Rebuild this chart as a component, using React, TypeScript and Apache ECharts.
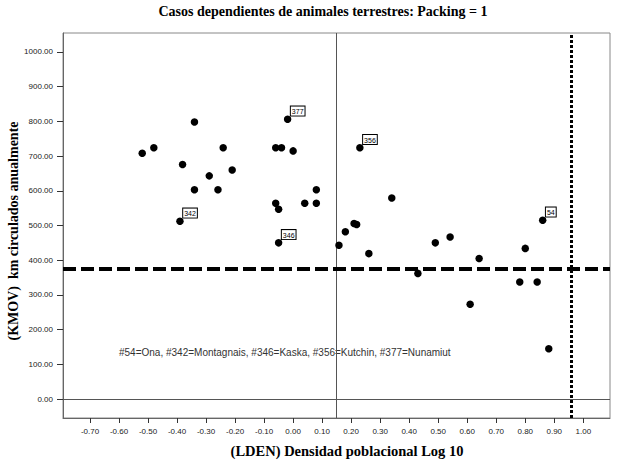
import React, { useEffect, useRef } from "react";
import * as echarts from "echarts";

const lden: number[] = [
  -0.52, -0.48, -0.34, -0.381, -0.289, -0.241, -0.21, -0.34, -0.259, -0.39,
  -0.06, -0.04, -0.019, 0.0, -0.06, -0.05, 0.04, 0.08, 0.08, -0.05,
  0.158, 0.18, 0.21, 0.219, 0.23, 0.261, 0.34, 0.43, 0.49, 0.541,
  0.61, 0.641, 0.781, 0.8, 0.841, 0.86, 0.881,
];
const kmov: number[] = [
  708, 724, 798, 676, 643, 724, 660, 603, 603, 512,
  724, 724, 806, 715, 564, 547, 564, 603, 564, 450,
  443, 482, 506, 503, 724, 419, 579, 362, 450, 467,
  273, 405, 337, 434, 337, 515, 145,
];
const caseIds: string[] = [
  "", "", "", "", "", "", "", "", "", "342",
  "", "", "377", "", "", "", "", "", "", "346",
  "", "", "", "", "356", "", "", "", "", "",
  "", "", "", "", "", "54", "",
];
const xTicks: number[] = [
  -0.7, -0.6, -0.5, -0.4, -0.3, -0.2, -0.1, 0.0, 0.1, 0.2, 0.3, 0.4, 0.5,
  0.6, 0.7, 0.8, 0.9, 1.0,
];
const yTicks: number[] = [0, 100, 200, 300, 400, 500, 600, 700, 800, 900, 1000];
const meanKmov = 374;
const meanLden = 0.15;
const packingThreshold = 0.962;
const legendNote =
  "#54=Ona, #342=Montagnais, #346=Kaska, #356=Kutchin, #377=Nunamiut";

export default function App() {
  const ref = useRef<HTMLDivElement>(null);
  useEffect(() => {
    if (!ref.current) return;
    const chart = echarts.init(ref.current, undefined, { renderer: "svg" });
    const data = lden.map((x, i) => {
      const id = caseIds[i];
      const item: any = { value: [x, kmov[i]] };
      if (id) {
        item.label = {
          show: true,
          formatter: id,
          position: [7, -9],
          fontSize: 7,
          fontFamily: "Liberation Sans",
          color: "#000",
          backgroundColor: "#fff",
          borderColor: "#000",
          borderWidth: 1,
          padding: [1, 1, 0, 1],
          lineHeight: 8,
          opacity: 1,
        };
      }
      return item;
    });
    const sans = "Liberation Sans";
    chart.setOption({
      animation: false,
      backgroundColor: "#fff",
      grid: {
        left: 63,
        top: 33,
        right: 8,
        bottom: 42,
        show: true,
        borderColor: "#888",
        borderWidth: 1,
        backgroundColor: "#fff",
      },
      xAxis: {
        type: "value",
        min: -0.793,
        max: 1.092,
        splitLine: { show: false },
        axisLine: { onZero: false, lineStyle: { color: "#666", width: 1 } },
        axisTick: {
          customValues: xTicks,
          length: 5,
          lineStyle: { color: "#333" },
        },
        axisLabel: {
          customValues: xTicks,
          formatter: (v: number) => v.toFixed(2),
          fontSize: 8,
          fontFamily: sans,
          color: "#222",
          margin: 9,
        },
      },
      yAxis: {
        type: "value",
        min: -54.7,
        max: 1054.7,
        splitLine: { show: false },
        axisLine: { onZero: false, lineStyle: { color: "#666", width: 1 } },
        axisTick: {
          customValues: yTicks,
          length: 6,
          lineStyle: { color: "#333" },
        },
        axisLabel: {
          customValues: yTicks,
          formatter: (v: number) => v.toFixed(2),
          fontSize: 8,
          fontFamily: sans,
          color: "#222",
          margin: 10,
        },
      },
      graphic: [
        {
          type: "text",
          x: 323,
          y: 11,
          style: {
            text: "Casos dependientes de animales terrestres: Packing = 1",
            font: "bold 14px 'Liberation Serif'",
            fill: "#000",
            textAlign: "center",
            textVerticalAlign: "middle",
          },
        },
        {
          type: "text",
          x: 347,
          y: 451,
          style: {
            text: "(LDEN) Densidad poblacional Log 10",
            font: "bold 14.5px 'Liberation Serif'",
            fill: "#000",
            textAlign: "center",
            textVerticalAlign: "middle",
          },
        },
        {
          type: "text",
          x: 13,
          y: 231,
          rotation: Math.PI / 2,
          style: {
            text: "(KMOV)  km circulados anualmente",
            font: "bold 14px 'Liberation Serif'",
            fill: "#000",
            textAlign: "center",
            textVerticalAlign: "middle",
          },
        },
        {
          type: "text",
          x: 119,
          y: 352,
          style: {
            text: legendNote,
            font: "10px 'Liberation Sans'",
            fill: "#333",
            textAlign: "left",
            textVerticalAlign: "middle",
          },
        },
      ],
      series: [
        {
          type: "scatter",
          data,
          symbol: "circle",
          symbolSize: 7.5,
          itemStyle: { color: "#000", opacity: 1 },
          z: 5,
          markLine: {
            silent: true,
            symbol: "none",
            label: { show: false },
            animation: false,
            data: [
              { yAxis: 0, lineStyle: { color: "#555", width: 1, type: "solid" } },
              { xAxis: meanLden, lineStyle: { color: "#555", width: 1, type: "solid" } },
              { yAxis: meanKmov, lineStyle: { color: "#000", width: 4, type: [13, 5] } },
              { xAxis: packingThreshold, lineStyle: { color: "#000", width: 3, type: [3, 2] } },
            ],
          },
        },
      ],
    });
    return () => chart.dispose();
  }, []);
  return (
    <div
      ref={ref}
      style={{ position: "fixed", left: 0, top: 0, width: 618, height: 460 }}
    />
  );
}
